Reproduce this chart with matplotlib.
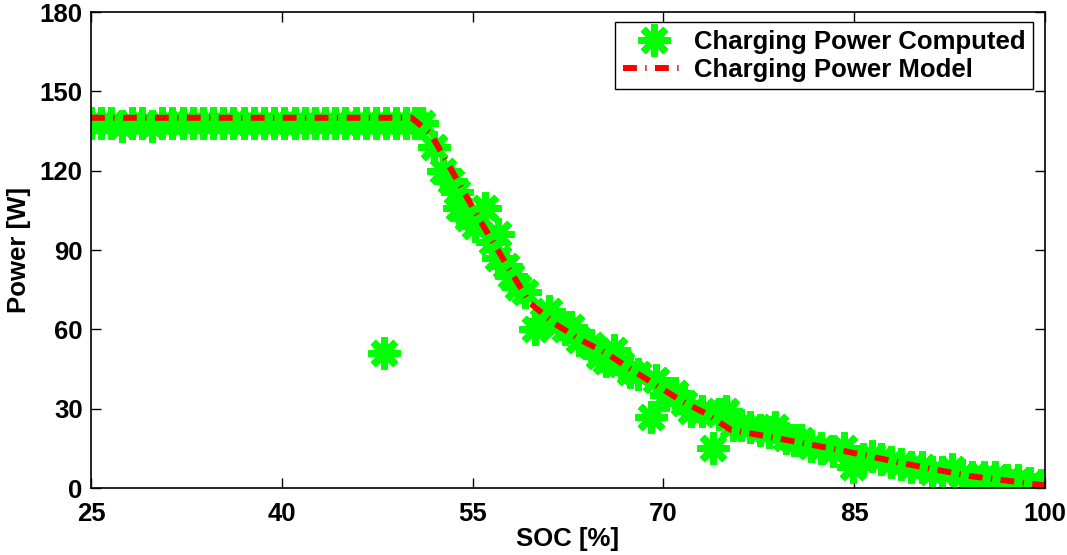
import matplotlib
matplotlib.use("Agg")
import matplotlib.pyplot as plt
import numpy as np

plt.rcParams["font.family"] = ["Liberation Sans", "DejaVu Sans"]
plt.rcParams["font.weight"] = "bold"
plt.rcParams["lines.scale_dashes"] = False

# computed charging power
soc_computed = [25.0, 25.8, 26.6, 27.4, 28.2, 29.0, 29.8, 30.6, 31.4, 32.2, 33.0,
                33.8, 34.6, 35.4, 36.2, 37.0, 37.8, 38.6, 39.4, 40.2, 41.0, 41.8,
                42.6, 43.4, 44.2, 45.0, 45.8, 46.6, 47.4, 48.2, 49.0, 49.8, 50.5,
                48.0,
                51.0, 52.0, 52.7, 53.3, 53.8, 53.9, 54.6, 55.2, 56.0, 56.5, 57.0,
                57.0, 57.6, 58.0, 58.6, 59.1, 59.9, 60.5, 61.0, 61.7, 62.3, 62.7,
                63.4, 64.3, 64.9, 65.5, 66.1, 66.7, 67.4, 68.0, 69.0, 69.4, 70.2,
                70.9, 71.6, 72.2, 73.0, 73.9, 74.4, 74.9, 75.5, 76.1, 76.8, 77.6,
                78.3, 78.8, 79.6, 80.3, 80.8, 81.6, 82.4, 83.3, 84.2, 84.9, 85.7,
                86.4, 87.1, 87.9, 88.7, 89.5, 90.3, 91.1, 91.9, 92.7, 93.5, 94.3,
                95.2, 96.1, 97.0, 97.9, 98.8, 99.7]
power_computed = [138, 138, 138, 137, 138, 138, 137, 138, 138, 138, 138,
                  138, 138, 138, 138, 138, 138, 138, 138, 138, 138, 138,
                  138, 138, 138, 138, 138, 138, 138, 138, 138, 138, 138,
                  51,
                  138, 129, 120, 116, 112, 106, 102, 99, 106, 93, 96,
                  87, 84, 80, 76, 74, 60, 63, 67, 62, 60, 61,
                  56, 54, 50, 48, 52, 47, 44, 43, 27, 41, 35,
                  36, 32, 29, 29, 15, 28, 29, 24, 24, 23, 22,
                  21, 23, 19, 18, 18, 16, 15, 14, 15, 8, 11,
                  12, 11, 10, 9, 8, 8, 6, 6, 7, 5, 4,
                  4, 4, 3, 3, 2, 1]

# charging power model
soc_model = [25, 50.2, 51.7, 53.6, 55.6, 57.6, 59.5, 61.5, 63.5, 65.5, 67.4,
             69.4, 71.4, 73.4, 75.3, 79.3, 84.2, 89.2, 94.1, 100]
power_model = [140, 140, 134, 118, 101, 85, 70, 62, 56, 51, 45, 39, 33, 28, 22,
               18.5, 14, 9, 4.5, 1]

fig = plt.figure(figsize=(10.67, 5.55), dpi=100)
ax = fig.add_axes([91 / 1067, 67 / 555, 954 / 1067, 476 / 555])

ax.plot(soc_computed, power_computed, linestyle="none", marker=(8, 2, 0),
        markersize=23, markeredgewidth=5, color="#00ff00",
        label="Charging Power Computed")
ax.plot(soc_model, power_model, color="#ff0000", linewidth=4.3,
        dashes=(10, 6, 1, 6), label="Charging Power Model")

ax.set_xlim(25, 100)
ax.set_ylim(0, 180)
ax.set_xticks([25, 40, 55, 70, 85, 100])
ax.set_yticks([0, 30, 60, 90, 120, 150, 180])
ax.tick_params(direction="in", length=7, width=1, top=True, right=True,
               labelsize=18.5, pad=6)
ax.tick_params(axis="x", pad=10)
for s in ax.spines.values():
    s.set_linewidth(1.2)
ax.set_xlabel("SOC [%]", fontsize=18.5, fontweight="bold", labelpad=1)
ax.set_ylabel("Power [W]", fontsize=18.5, fontweight="bold", labelpad=6)

leg = ax.legend(loc="upper right", bbox_to_anchor=(1033 / 1067, 1 - 22 / 555),
                bbox_transform=fig.transFigure, borderaxespad=0,
                fontsize=18.5, frameon=True, fancybox=False,
                handlelength=2.45, handletextpad=0.3,
                borderpad=0.3, labelspacing=0.15)
leg.get_frame().set_edgecolor("black")
leg.get_frame().set_linewidth(1)
leg.get_frame().set_alpha(1)

fig.savefig("out.png", dpi=100, facecolor="white")
